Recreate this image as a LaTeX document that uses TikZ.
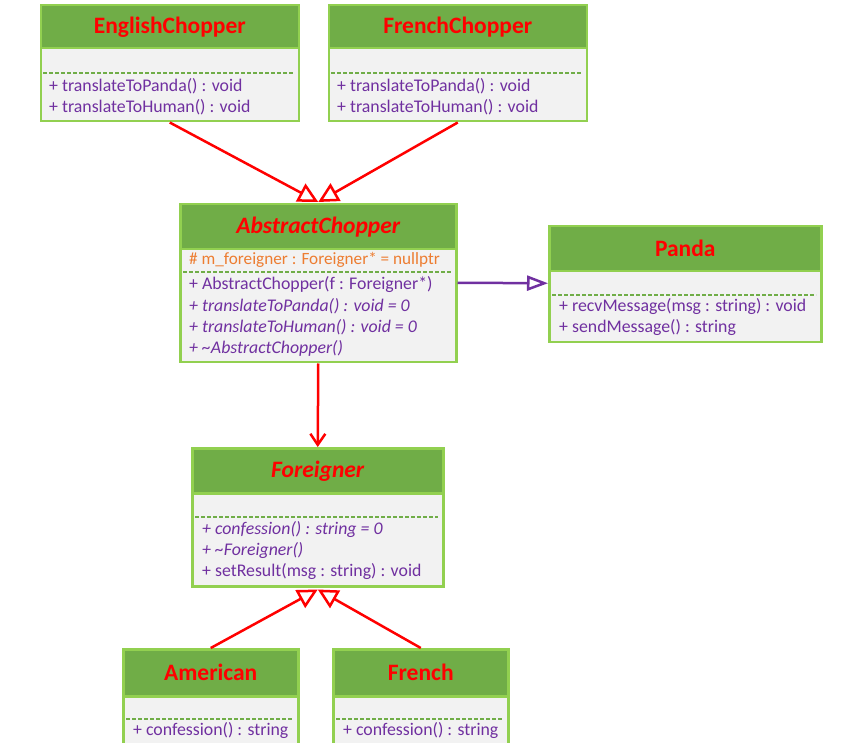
\documentclass[tikz,border=0pt]{standalone}
\usepackage{fontspec}
\setmainfont{Carlito}
\usetikzlibrary{arrows.meta}
\definecolor{hdrgreen}{HTML}{70AD47}
\definecolor{bordgreen}{HTML}{92D050}
\definecolor{bodygray}{HTML}{F2F2F2}
\definecolor{umlred}{HTML}{FF0000}
\definecolor{umlpurple}{HTML}{7030A0}
\definecolor{umlorange}{HTML}{ED7D31}
\tikzset{
  hdr/.style={draw=bordgreen, fill=hdrgreen, line width=2.5pt, inner sep=0pt, anchor=north west},
  bodyb/.style={draw=bordgreen, fill=bodygray, line width=2.5pt, inner sep=0pt, anchor=north west},
  title/.style={text=umlred, font=\fontsize{23.5}{28}\selectfont\bfseries, inner sep=0pt},
  ititle/.style={title, font=\fontsize{23.5}{28}\selectfont\bfseries\itshape},
  mem/.style={text=umlpurple, font=\fontsize{17.8}{22}\selectfont, anchor=west, inner sep=0pt},
  imem/.style={mem, font=\fontsize{17.8}{22}\selectfont\itshape},
  attr/.style={mem, text=umlorange, font=\fontsize{17.2}{22}\selectfont},
  dashl/.style={draw=hdrgreen, line width=1.3pt, dash pattern=on 4pt off 2pt},
  gen/.style={draw=umlred, line width=2.5pt, -{Triangle[open,length=20pt,width=20pt]}},
  assoc/.style={draw=umlred, line width=2.5pt, -{Straight Barb[length=11pt,width=15pt]}},
  dep/.style={draw=umlpurple, line width=2.5pt, -{Triangle[open,length=21pt,width=15pt]}}
}
\begin{document}
\begin{tikzpicture}[x=1pt,y=-1pt]
\useasboundingbox (0,0) rectangle (857,743);
\clip (0,0) rectangle (857,743);
\fill[white] (0,0) rectangle (857,743);

% EnglishChopper
\node[bodyb, minimum width=258pt, minimum height=73pt] (engB) at (39.5,47) {};
\node[hdr, minimum width=258pt, minimum height=43pt] (engH) at (39.5,4) {};
\node[title] (engT) at (engH.center) {EnglishChopper};
\draw[dashl] (43,73) -- (294,73);
\node[mem] (engM1) at (49,86) {+ translateToPanda() : void};
\node[mem] (engM2) at (49,107) {+ translateToHuman() : void};

% FrenchChopper
\node[bodyb, minimum width=258pt, minimum height=73pt] (frcB) at (327.5,47) {};
\node[hdr, minimum width=258pt, minimum height=43pt] (frcH) at (327.5,4) {};
\node[title] (frcT) at (frcH.center) {FrenchChopper};
\draw[dashl] (331,73) -- (582,73);
\node[mem] (frcM1) at (337,86) {+ translateToPanda() : void};
\node[mem] (frcM2) at (337,107) {+ translateToHuman() : void};

% AbstractChopper
\node[bodyb, minimum width=276pt, minimum height=113pt] (absB) at (179,248) {};
\node[hdr, minimum width=276pt, minimum height=45pt] (absH) at (179,203) {};
\node[ititle] (absT) at (absH.center) {AbstractChopper};
\node[attr] (absA1) at (189,260) {\# m\_foreigner : Foreigner* = nullptr};
\draw[dashl] (183,272) -- (451,272);
\node[mem] (absM1) at (189,285) {+ AbstractChopper(f : Foreigner*)};
\node[imem] (absM2) at (189,306) {+ translateToPanda() : void = 0};
\node[imem] (absM3) at (189,327) {+ translateToHuman() : void = 0};
\node[imem] (absM4) at (189,348) {+ \textasciitilde AbstractChopper()};

% Panda
\node[bodyb, minimum width=272pt, minimum height=71pt] (panB) at (548,270) {};
\node[hdr, minimum width=272pt, minimum height=45pt] (panH) at (548,225) {};
\node[title] (panT) at (panH.center) {Panda};
\draw[dashl] (552,295) -- (816,295);
\node[mem] (panM1) at (559,307) {+ recvMessage(msg : string) : void};
\node[mem] (panM2) at (559,328) {+ sendMessage() : string};

% Foreigner
\node[bodyb, minimum width=251pt, minimum height=93pt] (forB) at (191,492) {};
\node[hdr, minimum width=251pt, minimum height=45pt] (forH) at (191,447) {};
\node[ititle] (forT) at (forH.center) {Foreigner};
\draw[dashl] (195,517) -- (438,517);
\node[imem] (forM1) at (202,530) {+ confession() : string = 0};
\node[imem] (forM2) at (202,551) {+ \textasciitilde Foreigner()};
\node[mem] (forM3) at (202,572) {+ setResult(msg : string) : void};

% American
\node[bodyb, minimum width=175pt, minimum height=70pt] (amB) at (122,695) {};
\node[hdr, minimum width=175pt, minimum height=47pt] (amH) at (122,648) {};
\node[title] (amT) at (amH.center) {American};
\draw[dashl] (126,719) -- (293,719);
\node[mem] (amM1) at (133,731) {+ confession() : string};

% French
\node[bodyb, minimum width=175pt, minimum height=70pt] (frB) at (332,695) {};
\node[hdr, minimum width=175pt, minimum height=47pt] (frH) at (332,648) {};
\node[title] (frT) at (frH.center) {French};
\draw[dashl] (336,719) -- (503,719);
\node[mem] (frM1) at (343,731) {+ confession() : string};

% connectors
\draw[gen] (engB.south) -- ([yshift=1pt]absH.north);
\draw[gen] (frcB.south) -- ([yshift=1pt]absH.north);
\draw[assoc] (absB.south) -- (forH.north);
\draw[dep] ([yshift=23pt]absB.east) -- ([yshift=23.5pt]panB.west);
\draw[gen] (amH.north) -- ([yshift=-2pt]forB.south);
\draw[gen] (frH.north) -- ([yshift=-2pt]forB.south);
\end{tikzpicture}
\end{document}
